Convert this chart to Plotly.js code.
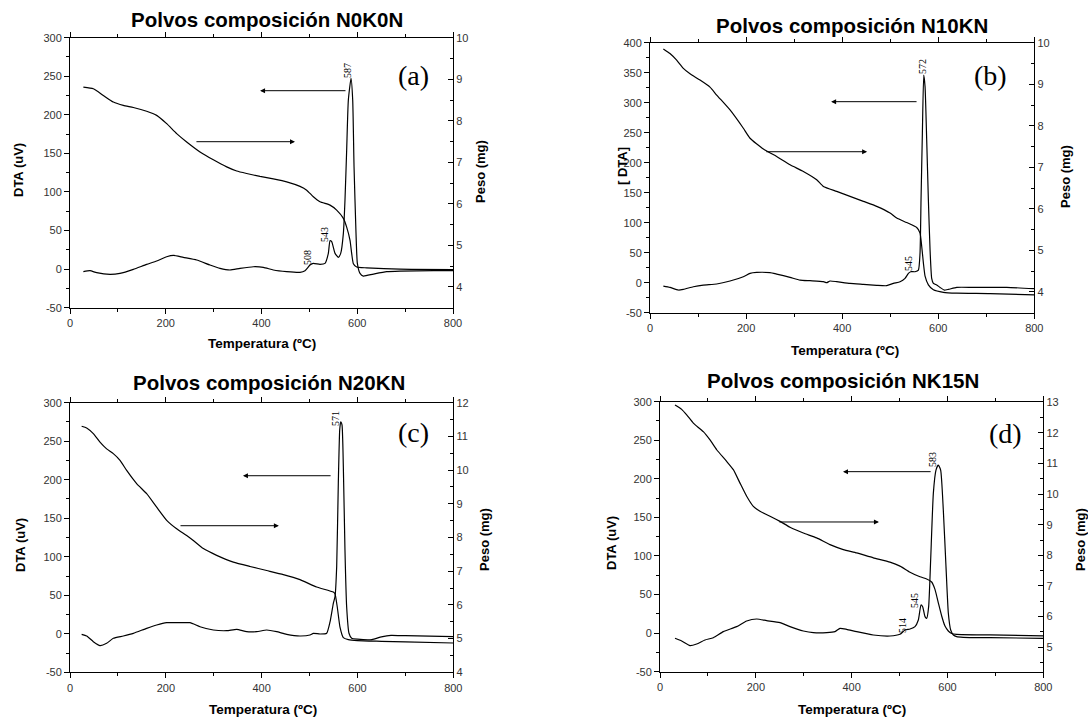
<!DOCTYPE html>
<html>
<head>
<meta charset="utf-8">
<script src="https://cdn.plot.ly/plotly-3.0.1.min.js"></script>
<style>html,body{margin:0;padding:0;background:#fff;}#chart{width:1088px;height:719px;}</style>
</head>
<body>
<div id="chart"></div>
<script>
// ---------- data ----------
const panelTitles = ["Polvos composición N0K0N", "Polvos composición N10KN", "Polvos composición N20KN", "Polvos composición NK15N"];
const panelLetters = ["(a)", "(b)", "(c)", "(d)"];
const leftTitles = ["DTA (uV)", "[ DTA]", "DTA (uV)", "DTA (uV)"];
const rightTitle = "Peso (mg)";
const xTitle = "Temperatura (ºC)";
const dtaTicks300 = [-50,0,50,100,150,200,250,300];
const dtaTicks400 = [-50,0,50,100,150,200,250,300,350,400];

// Panel (a)
const dtaA_T = [27.9,41.8,55.7,83.6,104.4,132.3,160.1,181.0,201.9,215.9,236.7,264.6,292.4,313.3,334.2,355.1,383.0,403.9,424.7,452.6,480.4,490.9,501.3,508.3,522.2,532.7,539.6,543.1,546.6,553.6,560.5,565.4,571.0,574.4,577.9,581.4,587.0,590.5,593.3,597.4,600.2,605.8,612.7,633.6,661.5,689.3,759.0,800];
const dtaA = [-3.3,-2.0,-4.6,-6.8,-5.5,-0.3,6.2,10.5,16.1,17.9,15.3,11.8,5.3,1.0,-1.1,1.0,3.1,2.3,-1.1,-3.3,-4.2,-2.0,5.3,7.5,6.2,7.5,20.4,36.8,35.6,20.4,15.3,20.4,46.4,89.6,154.4,219.2,247.3,219.2,132.8,46.4,7.5,-5.5,-9.0,-6.4,-3.3,-2.5,-2.0,-2.0];
const tgA_T = [27.9,48.7,69.6,90.5,111.4,132.3,160.1,181.0,201.9,222.8,243.7,271.6,299.4,327.3,348.2,369.0,396.9,424.7,452.6,480.4,494.4,508.3,522.2,543.1,557.0,571.0,577.9,584.9,588.4,591.9,598.8,619.7,689.3,800];
const tgA = [8.81,8.77,8.61,8.45,8.37,8.32,8.23,8.13,7.93,7.69,7.49,7.25,7.06,6.89,6.79,6.73,6.66,6.60,6.53,6.42,6.33,6.17,6.05,5.97,5.85,5.65,5.44,5.12,4.80,4.56,4.48,4.46,4.43,4.42];

// Panel (b)
const dtaB_T = [27.8,41.6,59.0,69.4,90.2,111.0,138.8,166.6,194.3,208.2,222.1,249.8,263.7,291.5,312.3,333.1,360.9,367.8,374.8,388.6,416.4,444.2,471.9,492.7,506.6,520.5,530.9,537.9,542.7,551.7,558.7,562.1,564.2,567.0,569.8,572.6,576.0,579.5,583.0,586.4,589.9,596.8,603.8,612.1,621.1,638.5,673.2,742.6,800];
const dtaB = [-5.6,-7.8,-12.2,-11.1,-6.7,-3.9,-2.2,2.8,10.0,15.6,17.2,16.7,14.4,8.9,4.4,3.3,1.7,0.0,2.8,1.7,-1.1,-2.8,-4.4,-5.0,-1.1,1.7,7.2,15.6,18.3,18.3,21.1,48.9,137.8,248.9,346.1,326.7,237.8,137.8,54.4,7.2,-1.1,-3.9,-7.8,-12.2,-11.1,-7.8,-7.8,-7.8,-10.0];
const tgB_T = [27.8,41.6,55.5,69.4,83.3,104.1,124.9,138.8,166.6,194.3,208.2,236.0,263.7,291.5,319.2,347.0,360.9,388.6,416.4,444.2,471.9,499.7,513.6,534.4,555.2,562.1,565.6,569.1,572.6,579.5,589.9,610.7,638.5,707.9,800];
const tgB = [9.85,9.74,9.58,9.38,9.25,9.10,8.93,8.74,8.38,7.94,7.70,7.44,7.26,7.06,6.90,6.70,6.54,6.42,6.30,6.18,6.06,5.90,5.78,5.67,5.55,5.42,5.10,4.70,4.38,4.17,4.05,3.99,3.97,3.96,3.93];

// Panel (c)
const dtaC_T = [24.3,34.8,48.7,62.6,76.5,90.4,111.3,132.2,160.0,180.9,201.8,229.6,250.5,271.3,299.2,327.0,347.9,368.7,389.6,410.5,431.3,452.2,480.0,500.9,507.9,521.8,535.7,542.6,549.6,553.1,556.6,560.0,562.9,565.0,567.7,570.5,573.9,577.4,582.3,587.9,600,630,650,670,700,800];
const dtaC = [-0.7,-2.9,-10.2,-15.4,-12.4,-5.9,-2.9,0.6,7.1,11.4,14.4,14.4,14.4,9.2,4.9,4.0,5.8,2.7,2.7,4.9,2.7,-0.7,-2.9,-1.6,0.6,-0.3,0.7,15.0,39.6,48.2,87.1,195.4,264.6,275.3,271.1,216.9,108.8,35.2,0.7,-5.8,-7.0,-7.5,-4.0,-2.0,-2.5,-3.8];
const tgC_T = [24.3,34.8,48.7,62.6,76.5,90.4,104.4,118.3,139.1,160.0,180.9,201.8,222.6,243.5,257.4,278.3,306.1,340.9,375.7,410.5,445.2,480.0,514.8,549.6,553.1,557.9,563.5,570.5,580.9,600,650,700,800];
const tgC = [11.30,11.25,11.08,10.83,10.63,10.49,10.29,9.99,9.60,9.30,8.90,8.51,8.26,8.06,7.91,7.67,7.47,7.27,7.14,7.02,6.90,6.75,6.53,6.38,6.33,5.93,5.34,5.03,4.97,4.94,4.92,4.90,4.87];

// Panel (d)
const dtaD_T = [31.3,45.2,62.6,76.5,93.9,111.3,132.2,160.0,180.9,201.8,222.6,250.5,271.3,299.2,320.0,347.9,365.2,375.7,389.6,410.5,445.2,480.0,500.9,511.3,521.8,532.2,539.2,544.7,548.2,553.1,556.6,560.7,564.9,570.5,576.0,580.9,585.8,591.3,596.9,601.8,606.7,612.3,619.2,633.1,688.7,800];
const dtaD = [-6.7,-10.2,-16.2,-14.1,-8.9,-5.9,1.9,8.4,15.7,18.3,16.2,13.6,8.4,2.8,0.6,0.6,1.9,6.2,4.9,1.9,-2.4,-3.7,-1.5,4.1,5.4,8.4,17.0,36.5,34.3,21.4,19.2,34.3,94.8,181.2,211.4,217.9,211.4,159.6,86.2,25.7,4.1,-2.4,-4.6,-5.4,-5.9,-6.7];
const tgD_T = [31.3,45.2,55.7,69.6,90.4,104.4,118.3,139.1,153.1,167.0,180.9,194.8,208.7,229.6,250.5,271.3,299.2,327.0,354.8,382.6,410.5,445.2,480.0,500.9,521.8,542.6,556.6,567.0,573.9,580.9,587.9,594.8,601.7,608.7,619.2,688.7,800];
const tgD = [12.91,12.77,12.59,12.32,12.04,11.77,11.45,11.07,10.80,10.36,9.93,9.60,9.44,9.28,9.11,8.92,8.73,8.57,8.35,8.19,8.08,7.92,7.78,7.65,7.45,7.30,7.23,7.13,6.89,6.45,6.02,5.69,5.53,5.45,5.42,5.40,5.37];

// peak labels [temperature label, x, y]
const peaksA = [["587",578.7,256.8],["543",532.7,44.3],["508",497.2,14.5]];
const peaksB = [["572",566.3,359.5],["545",537.2,31.1]];
const peaksC = [["571",553,280.1]];
const peaksD = [["583",567.7,224.4],["545",532.2,43.0],["514",507.1,10.6]];

// arrows [tailX, headX, y]
const arrowsA = [[578.6,397,231.3],[261,470,165.2]];
const arrowsB = [[558,377,301.7],[239,452,218.3]];
const arrowsC = [[547,361,205.2],[227.5,436,140.3]];
const arrowsD = [[568,382,209.3],[246,457,144.1]];

// ---------- layout geometry (pixels) ----------
const W = 1088, H = 719;
const X = p => p / W, Y = p => 1 - p / H;
const panels = [
  {x0:70, x1:453, y0:37.7, y1:307.7, dta:[-50,300], dtaTicks:dtaTicks300, tg:[3.5,10],
   dT:dtaA_T, d:dtaA, gT:tgA_T, g:tgA, peaks:peaksA, arrows:arrowsA,
   title:[267,19], letter:[413,76], xt:[262,343], lt:[18,170], rt:[480,172]},
  {x0:650, x1:1034.3, y0:42.7, y1:312.7, dta:[-50,400], dtaTicks:dtaTicks400, tg:[3.5,10],
   dT:dtaB_T, d:dtaB, gT:tgB_T, g:tgB, peaks:peaksB, arrows:arrowsB,
   title:[852,25], letter:[990,75], xt:[845,350], lt:[622,166], rt:[1066,177]},
  {x0:70, x1:453.3, y0:402.7, y1:672.3, dta:[-50,300], dtaTicks:dtaTicks300, tg:[4,12],
   dT:dtaC_T, d:dtaC, gT:tgC_T, g:tgC, peaks:peaksC, arrows:arrowsC,
   title:[269,382], letter:[413,432], xt:[263,709], lt:[20,545], rt:[484,540]},
  {x0:660, x1:1043.3, y0:401.7, y1:671.7, dta:[-50,300], dtaTicks:dtaTicks300, tg:[4.2,13.02],
   dT:dtaD_T, d:dtaD, gT:tgD_T, g:tgD, peaks:peaksD, arrows:arrowsD,
   title:[843,380], letter:[1005,433], xt:[852,709], lt:[611,543], rt:[1080,540]}
];

const tickFont = {family:"Liberation Sans, Arial, sans-serif", size:11, color:"#333"};
const traces = [];
const layout = {
  width:W, height:H, margin:{l:0,r:0,t:0,b:0},
  paper_bgcolor:"#fff", plot_bgcolor:"#fff", showlegend:false,
  annotations:[]
};

panels.forEach((p, i) => {
  const n = i + 1;
  const xs = n === 1 ? "" : String(n);
  const yl = n === 1 ? "" : String(n);
  const yr = String(n + 4);
  const xName = "x" + xs, yName = "y" + yl, yrName = "y" + yr;

  traces.push({x:p.dT, y:p.d, xaxis:xName, yaxis:yName, type:"scatter", mode:"lines",
    line:{color:"#000", width:1.2, shape:"spline", smoothing:0.5}, hoverinfo:"skip"});
  traces.push({x:p.gT, y:p.g, xaxis:xName, yaxis:yrName, type:"scatter", mode:"lines",
    line:{color:"#000", width:1.2, shape:"spline", smoothing:0.5}, hoverinfo:"skip"});

  layout["xaxis" + xs] = {
    domain:[X(p.x0), X(p.x1)], range:[0,800], anchor:yName,
    dtick:200, tick0:0, ticks:"outside", ticklen:5, tickwidth:1, tickcolor:"#000",
    minor:{dtick:100, ticks:"outside", ticklen:3, tickcolor:"#000"},
    showline:true, linecolor:"#000", linewidth:1, mirror:"ticks",
    showgrid:false, zeroline:false, tickfont:tickFont, fixedrange:true
  };
  layout["yaxis" + yl] = {
    domain:[Y(p.y1), Y(p.y0)], range:p.dta, anchor:xName,
    tickmode:"array", tickvals:p.dtaTicks, ticktext:p.dtaTicks.map(v => String(v)),
    ticks:"outside", ticklen:5, tickwidth:1, tickcolor:"#000",
    minor:{tick0:0, dtick:25, ticks:"outside", ticklen:3, tickcolor:"#000"},
    showline:true, linecolor:"#000", linewidth:1, mirror:false,
    showgrid:false, zeroline:false, tickfont:tickFont, fixedrange:true
  };
  layout["yaxis" + yr] = {
    overlaying:yName, side:"right", anchor:xName, range:p.tg,
    dtick:1, tick0:0, ticks:"inside", ticklen:5, tickwidth:1, tickcolor:"#000",
    minor:{dtick:0.5, ticks:"inside", ticklen:3, tickcolor:"#000"},
    showline:true, linecolor:"#000", linewidth:1,
    showgrid:false, zeroline:false, tickfont:tickFont, fixedrange:true
  };

  const A = layout.annotations;
  A.push({xref:"paper", yref:"paper", x:X(p.title[0]), y:Y(p.title[1]), text:panelTitles[i],
    showarrow:false, xanchor:"center", yanchor:"middle",
    font:{family:"Liberation Sans, Arial, sans-serif", size:20.5, color:"#000", weight:"bold"}});
  A.push({xref:"paper", yref:"paper", x:X(p.letter[0]), y:Y(p.letter[1]), text:panelLetters[i],
    showarrow:false, xanchor:"center", yanchor:"middle",
    font:{family:"Liberation Serif, Times New Roman, serif", size:28, color:"#000"}});
  A.push({xref:"paper", yref:"paper", x:X(p.xt[0]), y:Y(p.xt[1]), text:xTitle,
    showarrow:false, xanchor:"center", yanchor:"middle",
    font:{family:"Liberation Sans, Arial, sans-serif", size:13.5, color:"#000", weight:"bold"}});
  A.push({xref:"paper", yref:"paper", x:X(p.lt[0]), y:Y(p.lt[1]), text:leftTitles[i],
    showarrow:false, xanchor:"center", yanchor:"middle", textangle:-90,
    font:{family:"Liberation Sans, Arial, sans-serif", size:13, color:"#000", weight:"bold"}});
  A.push({xref:"paper", yref:"paper", x:X(p.rt[0]), y:Y(p.rt[1]), text:rightTitle,
    showarrow:false, xanchor:"center", yanchor:"middle", textangle:-90,
    font:{family:"Liberation Sans, Arial, sans-serif", size:13, color:"#000", weight:"bold"}});
  p.peaks.forEach(pk => {
    A.push({xref:xName, yref:yName, x:pk[1], y:pk[2], text:pk[0], showarrow:false,
      textangle:-90, xanchor:"center", yanchor:"middle",
      font:{family:"Liberation Serif, Times New Roman, serif", size:10, color:"#000"}});
  });
  p.arrows.forEach(ar => {
    A.push({xref:xName, yref:yName, axref:xName, ayref:yName,
      x:ar[1], y:ar[2], ax:ar[0], ay:ar[2], text:"", showarrow:true,
      arrowhead:2, arrowsize:1, arrowwidth:1, arrowcolor:"#000", standoff:0, startstandoff:0});
  });
});

Plotly.newPlot("chart", traces, layout, {staticPlot:true, displayModeBar:false});
</script>
</body>
</html>
